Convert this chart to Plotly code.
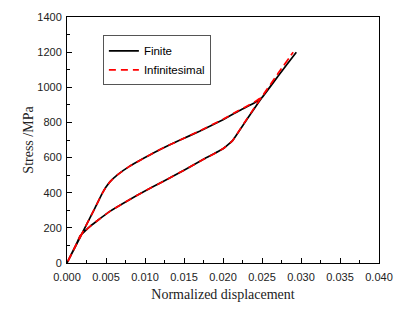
import plotly.graph_objects as go

# Finite: upper branch (origin -> top), then lower branch (top -> origin)
fin_upper_x = [0, 0.0017, 0.0035, 0.0045, 0.0050, 0.0055, 0.0065, 0.008, 0.010, 0.012, 0.0145, 0.017, 0.020, 0.022, 0.024, 0.025, 0.027, 0.0294]
fin_upper_y = [0, 148, 305, 395, 432, 462, 503, 550, 600, 648, 700, 750, 815, 865, 910, 942, 1060, 1200]
fin_lower_x = [0.0294, 0.027, 0.0250, 0.024, 0.0225, 0.0212, 0.020, 0.0175, 0.015, 0.0125, 0.010, 0.008, 0.0055, 0.004, 0.003, 0.0023, 0.0017, 0.0012, 0]
fin_lower_y = [1200, 1060, 942, 878, 780, 695, 650, 590, 528, 468, 410, 360, 294, 245, 210, 182, 155, 108, 0]

# Infinitesimal
inf_upper_x = [0, 0.0017, 0.0035, 0.0045, 0.0050, 0.0055, 0.0065, 0.008, 0.010, 0.012, 0.0145, 0.017, 0.020, 0.022, 0.024, 0.025, 0.027, 0.0290]
inf_upper_y = [0, 148, 305, 395, 432, 462, 503, 550, 600, 648, 700, 752, 818, 868, 915, 948, 1075, 1200]
inf_lower_x = [0.0290, 0.027, 0.0250, 0.024, 0.0225, 0.0212, 0.020, 0.0175, 0.015, 0.0125, 0.010, 0.008, 0.0055, 0.004, 0.003, 0.0023, 0.0017, 0.0012, 0]
inf_lower_y = [1200, 1075, 948, 882, 782, 695, 650, 590, 528, 468, 410, 360, 294, 245, 210, 182, 155, 108, 0]

x_ticks = [0, 0.005, 0.010, 0.015, 0.020, 0.025, 0.030, 0.035, 0.040]
x_tick_labels = ["0.000", "0.005", "0.010", "0.015", "0.020", "0.025", "0.030", "0.035", "0.040"]
y_ticks = [0, 200, 400, 600, 800, 1000, 1200, 1400]

fig = go.Figure()
fig.add_trace(go.Scatter(x=fin_upper_x + fin_lower_x, y=fin_upper_y + fin_lower_y,
                         mode="lines", name="Finite", line_shape="spline",
                         line=dict(color="black", width=1.7, smoothing=0.3)))
fig.add_trace(go.Scatter(x=inf_upper_x + inf_lower_x, y=inf_upper_y + inf_lower_y,
                         mode="lines", name="Infinitesimal", line_shape="spline",
                         line=dict(color="#ff0000", width=1.7, dash="7px,5px", smoothing=0.3)))

axis_common = dict(showline=True, linecolor="black", linewidth=1, mirror=True,
                   ticks="inside", ticklen=5, tickcolor="black", showgrid=False,
                   zeroline=False, tickfont=dict(family="Liberation Sans, Arial", size=11, color="#222"))

fig.update_xaxes(range=[0, 0.040], tickvals=x_ticks, ticktext=x_tick_labels, ticklabelstandoff=4,
                 minor=dict(ticks="inside", ticklen=3, tickcolor="black", dtick=0.0025),
                 title=dict(text="Normalized displacement",
                            font=dict(family="Liberation Serif, Times New Roman", size=14, color="#222"),
                            standoff=6),
                 **axis_common)
fig.update_yaxes(range=[0, 1400], tickvals=y_ticks, ticklabelstandoff=2,
                 minor=dict(ticks="inside", ticklen=3, tickcolor="black", dtick=100),
                 title=dict(text="Stress /MPa",
                            font=dict(family="Liberation Serif, Times New Roman", size=14, color="#222"),
                            standoff=0),
                 **axis_common)

fig.update_layout(
    width=415, height=312,
    margin=dict(l=67, r=36, t=17, b=49),
    plot_bgcolor="white", paper_bgcolor="white",
    showlegend=True,
    legend=dict(x=0.115, y=0.925, xanchor="left", yanchor="top",
                bordercolor="#555", borderwidth=1, bgcolor="white",
                font=dict(family="Liberation Sans, Arial", size=11.5, color="black"),
                tracegroupgap=0, itemwidth=30),
)

fig.write_html("out.html", config={"displayModeBar": False},
               post_script="document.body.style.margin='0px';")
